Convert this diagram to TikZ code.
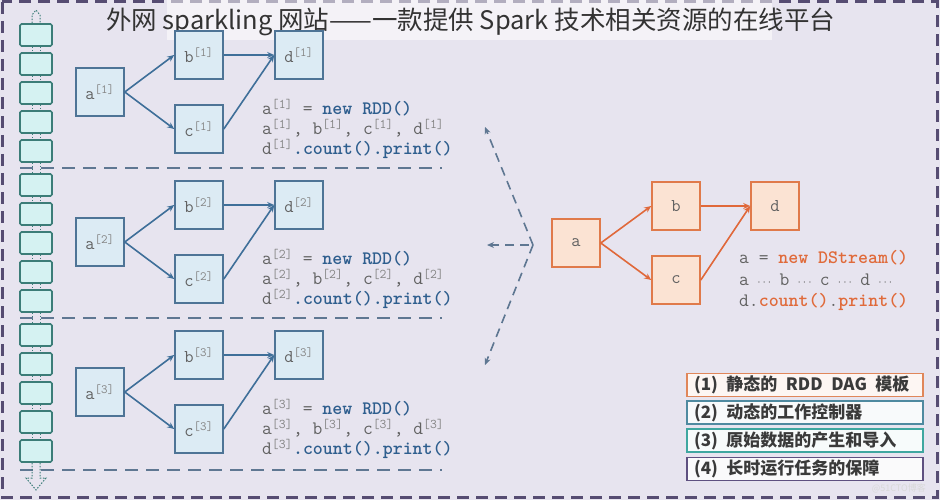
\documentclass[tikz,border=0pt]{standalone}
\usepackage{fontspec}
\newfontfamily\cjk{Noto Sans CJK SC}
\usetikzlibrary{arrows.meta}
\definecolor{bgcol}{HTML}{E7E4EF}
\definecolor{framecol}{HTML}{564C72}
\definecolor{divcol}{HTML}{5F7792}
\definecolor{rddline}{HTML}{4E7496}
\definecolor{rddfill}{HTML}{DCEBF4}
\definecolor{rddarrow}{HTML}{3F6F99}
\definecolor{dsline}{HTML}{E07A4A}
\definecolor{dsfill}{HTML}{FBE3D3}
\definecolor{dsarrow}{HTML}{E0683A}
\definecolor{cellline}{HTML}{3C7D78}
\definecolor{cellfill}{HTML}{D5F2F2}
\definecolor{codegray}{HTML}{626262}
\definecolor{supgray}{HTML}{858585}
\definecolor{kwblue}{HTML}{2E5E8E}
\definecolor{kworange}{HTML}{E06A3A}
\definecolor{legtext}{HTML}{3A3A3A}
\definecolor{leg1}{HTML}{E0865A}
\definecolor{leg2}{HTML}{4F8AA0}
\definecolor{leg3}{HTML}{3FA7A0}
\definecolor{leg4}{HTML}{5E5080}
\newcommand\sps[1]{\textcolor{supgray}{\textsuperscript{[#1]}}}
\newcommand\kwb[1]{\textcolor{kwblue}{\bfseries #1}}
\newcommand\kwo[1]{\textcolor{kworange}{\bfseries #1}}
\newcommand\dts{\makebox[11pt]{\fontsize{12}{12}\selectfont$\cdots$}}
\tikzset{
 rdd/.style={draw=rddline, fill=rddfill, line width=1.6pt, minimum width=48pt, minimum height=48pt, inner sep=0pt, font=\ttfamily\fontsize{18}{18}\selectfont, text=codegray},
 dsn/.style={rdd, draw=dsline, fill=dsfill},
 rarr/.style={draw=rddarrow, line width=1.6pt, -{Stealth[length=7pt,width=6pt]}},
 darr/.style={draw=dsarrow, line width=1.6pt, -{Stealth[length=7pt,width=6pt]}},
 code/.style={anchor=west, inner sep=0pt, font=\ttfamily\fontsize{19}{19}\selectfont, text=codegray},
 cell/.style={draw=cellline, fill=cellfill, line width=1.6pt, minimum width=32pt, minimum height=22pt, inner sep=0pt, rounded corners=1.5pt},
 link/.style={draw=cellline, line width=1pt, dash pattern=on 1.5pt off 1.5pt},
 divider/.style={draw=divcol, line width=2pt, dash pattern=on 13pt off 8pt},
 hubarr/.style={draw=divcol, line width=1.6pt, dash pattern=on 9pt off 6pt, -{Stealth[length=7pt,width=6pt]}},
 legend/.style={line width=1.6pt, minimum height=23pt, text width=222pt, inner xsep=7pt, inner ysep=0pt, align=left, font=\cjk\bfseries\fontsize{17}{17}\selectfont, text=legtext},
}
\begin{document}
\begin{tikzpicture}[x=1pt,y=-1pt]
\useasboundingbox (0,0) rectangle (940,500);
\fill[bgcol] (0,0) rectangle (940,500);
\draw[framecol, line width=3pt, dash pattern=on 12pt off 7pt] (2,2) rectangle (937,497);
% title band
\fill[white, opacity=0.55] (167,0) rectangle (772,40);
\node[anchor=west, inner sep=0pt, font=\cjk\fontsize{25.5}{25.5}\selectfont, text=black!80] (title) at (106,22) {外网 sparkling 网站——一款提供 Spark 技术相关资源的在线平台};
% dividers
\foreach \y [count=\i] in {168,318,470} {
  \coordinate (dl\i) at (20,\y);
  \coordinate (dr\i) at (442,\y);
  \draw[divider] (dl\i) -- (dr\i);
}
% left strip of cells
\foreach \g in {0,1,2} {
  \foreach \k in {0,...,4} {
    \pgfmathsetmacro\cy{35+150*\g+29*\k}
    \node[cell] (s\g-\k) at (36,\cy) {};
  }
  \foreach \k [evaluate=\k as \n using int(\k+1)] in {0,...,3} {
    \draw[link] ([xshift=-4pt]s\g-\k.south) -- ([xshift=-4pt]s\g-\n.north);
    \draw[link] ([xshift=4pt]s\g-\k.south) -- ([xshift=4pt]s\g-\n.north);
  }
}
\foreach \g [evaluate=\g as \n using int(\g+1)] in {0,1} {
  \draw[link] ([xshift=-4pt]s\g-4.south) -- ([xshift=-4pt]s\n-0.north);
  \draw[link] ([xshift=4pt]s\g-4.south) -- ([xshift=4pt]s\n-0.north);
}
% top and bottom stream ends
\coordinate (topl) at (32,15);
\coordinate (topm) at (36,10);
\coordinate (topr) at (40,15);
\draw[link] ([xshift=-4pt]s0-0.north) -- (topl) -- (topm) -- (topr) -- ([xshift=4pt]s0-0.north);
\coordinate (botl) at (32,478);
\coordinate (botr) at (40,478);
\coordinate (botla) at (26,478);
\coordinate (botra) at (46,478);
\coordinate (botm) at (36,490);
\draw[link] ([xshift=-4pt]s2-4.south) -- (botl) -- (botla) -- (botm) -- (botra) -- (botr) -- ([xshift=4pt]s2-4.south);
% three RDD DAGs
\foreach \g in {1,2,3} {
  \pgfmathsetmacro\oy{150*(\g-1)}
  \node[rdd] (a\g) at (100,92+\oy) {a\sps{\g}};
  \node[rdd] (b\g) at (199,55+\oy) {b\sps{\g}};
  \node[rdd] (c\g) at (199,129+\oy) {c\sps{\g}};
  \node[rdd] (d\g) at (299,55+\oy) {d\sps{\g}};
  \draw[rarr] (a\g.east) -- (b\g.west);
  \draw[rarr] (a\g.east) -- (c\g.west);
  \draw[rarr] (b\g.east) -- (d\g.west);
  \draw[rarr] (c\g.east) -- (d\g.west);
  \node[code] (ca\g) at (262,108+\oy) {a\sps{\g} = \kwb{new RDD()}};
  \node[code] (cb\g) at (262,128+\oy) {a\sps{\g}, b\sps{\g}, c\sps{\g}, d\sps{\g}};
  \node[code] (cc\g) at (262,149+\oy) {d\sps{\g}\kwb{.count().print()}};
}
% DStream DAG
\node[dsn] (a) at (576,243) {a};
\node[dsn] (b) at (676,206) {b};
\node[dsn] (c) at (676,280) {c};
\node[dsn] (d) at (775,206) {d};
\draw[darr] (a.east) -- (b.west);
\draw[darr] (a.east) -- (c.west);
\draw[darr] (b.east) -- (d.west);
\draw[darr] (c.east) -- (d.west);
\node[code] (x1) at (739,258) {a = \kwo{new DStream()}};
\node[code] (x2) at (739,280) {a \dts{} b \dts{} c \dts{} d \dts};
\node[code] (x3) at (739,302) {d.\kwo{count()}.\kwo{print()}};
% generation arrows
\coordinate (hub) at (533,245);
\coordinate (hubw) at (529,245);
\coordinate (up) at (485,127);
\coordinate (left) at (487,245);
\coordinate (down) at (485,365);
\draw[hubarr] (hub) -- (up);
\draw[hubarr] (hubw) -- (left);
\draw[hubarr] (hub) -- (down);
% legend
\node[legend, draw=leg1, fill=white!70!leg1!25] (l1) at (805,385) {(1)\enspace 静态的\enspace RDD\enspace DAG\enspace 模板};
\node[legend, draw=leg2, fill=white!80!leg2!20] (l2) at (805,412.5) {(2)\enspace 动态的工作控制器};
\node[legend, draw=leg3, fill=white!80!leg3!20] (l3) at (805,440.5) {(3)\enspace 原始数据的产生和导入};
\node[legend, draw=leg4, fill=white!80!leg4!15] (l4) at (805,469) {(4)\enspace 长时运行任务的保障};
\node[anchor=east, inner sep=0pt, font=\cjk\fontsize{9}{9}\selectfont, text=white!70!gray] (wm) at (926,488) {@51CTO博客};
\end{tikzpicture}
\end{document}
